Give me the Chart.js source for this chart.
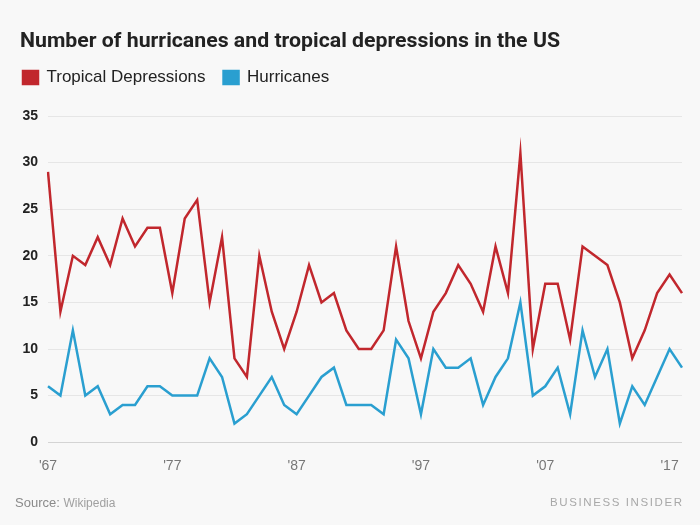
<!DOCTYPE html>
<html><head><meta charset="utf-8">
<script src="https://cdn.jsdelivr.net/npm/chart.js@4.4.1/dist/chart.umd.min.js"></script>
<style>
html,body{margin:0;padding:0;background:#f8f8f8;}
#wrap{position:relative;width:700px;height:525px;overflow:hidden;background:#f8f8f8;}
#c{position:absolute;left:0;top:0;}
#title{position:absolute;left:20px;top:28px;font:bold 21px Roboto, 'Liberation Sans', sans-serif;color:#222;white-space:nowrap;transform-origin:0 0;}
#src{position:absolute;left:15px;top:495px;font:13px 'Liberation Sans', sans-serif;color:#8a8a8a;white-space:nowrap;}
#src span{color:#a0a0a0;font-size:12px;}
#bi{position:absolute;right:18px;top:496px;font:11.5px 'Liberation Sans', sans-serif;color:#a8a8a8;letter-spacing:1.6px;white-space:nowrap;}
</style></head>
<body>
<div id="wrap">
<canvas id="c" width="700" height="525"></canvas>
<div id="title">Number of hurricanes and tropical depressions in the US</div>
<div id="src">Source: <span>Wikipedia</span></div>
<div id="bi">BUSINESS INSIDE<span style="letter-spacing:0">R</span></div>
</div>
<script>
const years = [1967,1968,1969,1970,1971,1972,1973,1974,1975,1976,1977,1978,1979,1980,1981,1982,1983,1984,1985,1986,1987,1988,1989,1990,1991,1992,1993,1994,1995,1996,1997,1998,1999,2000,2001,2002,2003,2004,2005,2006,2007,2008,2009,2010,2011,2012,2013,2014,2015,2016,2017,2018];
const tropicalDepressions = [29,14,20,19,22,19,24,21,23,23,16,24,26,15,22,9,7,20,14,10,14,19,15,16,12,10,10,12,21,13,9,14,16,19,17,14,21,16,31,10,17,17,11,21,20,19,15,9,12,16,18,16];
const hurricanes = [6,5,12,5,6,3,4,4,6,6,5,5,5,9,7,2,3,5,7,4,3,5,7,8,4,4,4,3,11,9,3,10,8,8,9,4,7,9,15,5,6,8,3,12,7,10,2,6,4,7,10,8];
const tickYears = [1967,1977,1987,1997,2007,2017];
const tickLabels = ["'67","'77","'87","'97","'07","'17"];
const yTicks = [0,5,10,15,20,25,30,35];

// fit title width
const t = document.getElementById('title');
const w = t.getBoundingClientRect().width;
t.style.transform = 'scaleX(' + (540 / w) + ')';

const legendGap = {
  id: 'legendGap',
  beforeInit(chart) {
    const fit = chart.legend.fit;
    chart.legend.fit = function() { fit.bind(chart.legend)(); this.height += 20; };
  }
};
const sharpJoins = {
  id: 'sharpJoins',
  beforeDatasetsDraw(chart) { chart.ctx.miterLimit = 20; }
};

new Chart(document.getElementById('c'), {
  type: 'line',
  plugins: [legendGap, sharpJoins],
  data: {
    labels: years,
    datasets: [
      {label: 'Tropical Depressions', data: tropicalDepressions, borderColor: '#c1272d', backgroundColor: '#c1272d', borderWidth: 2.5, pointRadius: 0, tension: 0, borderJoinStyle: 'miter'},
      {label: 'Hurricanes', data: hurricanes, borderColor: '#2a9fd0', backgroundColor: '#2a9fd0', borderWidth: 2.5, pointRadius: 0, tension: 0, borderJoinStyle: 'miter'}
    ]
  },
  options: {
    responsive: false,
    animation: false,
    layout: {padding: {top: 51, left: 5, right: 18, bottom: 42}},
    plugins: {
      legend: {
        position: 'top', align: 'start',
        labels: {boxWidth: 15, boxHeight: 13, padding: 18, color: '#222', font: {family: "'Liberation Sans', sans-serif", size: 17}}
      },
      tooltip: {enabled: false}
    },
    scales: {
      x: {
        offset: false,
        grid: {display: false},
        border: {display: false},
        ticks: {
          autoSkip: false, maxRotation: 0, padding: 8, color: '#777',
          font: {family: "'Liberation Sans', sans-serif", size: 14},
          callback: function(v, i) { const k = tickYears.indexOf(years[i]); return k >= 0 ? tickLabels[k] : null; }
        }
      },
      y: {
        min: 0, max: 35,
        afterFit: function(s) { s.width = 43; },
        afterBuildTicks: function(s) { s.ticks = yTicks.map(v => ({value: v})); },
        border: {display: false},
        grid: {drawTicks: false, color: ctx => ctx.tick && ctx.tick.value === 0 ? '#d4d4d4' : '#e6e6e6', lineWidth: 1},
        ticks: {padding: 10, color: '#222', font: {family: "'Liberation Sans', sans-serif", size: 14, weight: 'bold'}}
      }
    }
  }
});
</script>
</body></html>
